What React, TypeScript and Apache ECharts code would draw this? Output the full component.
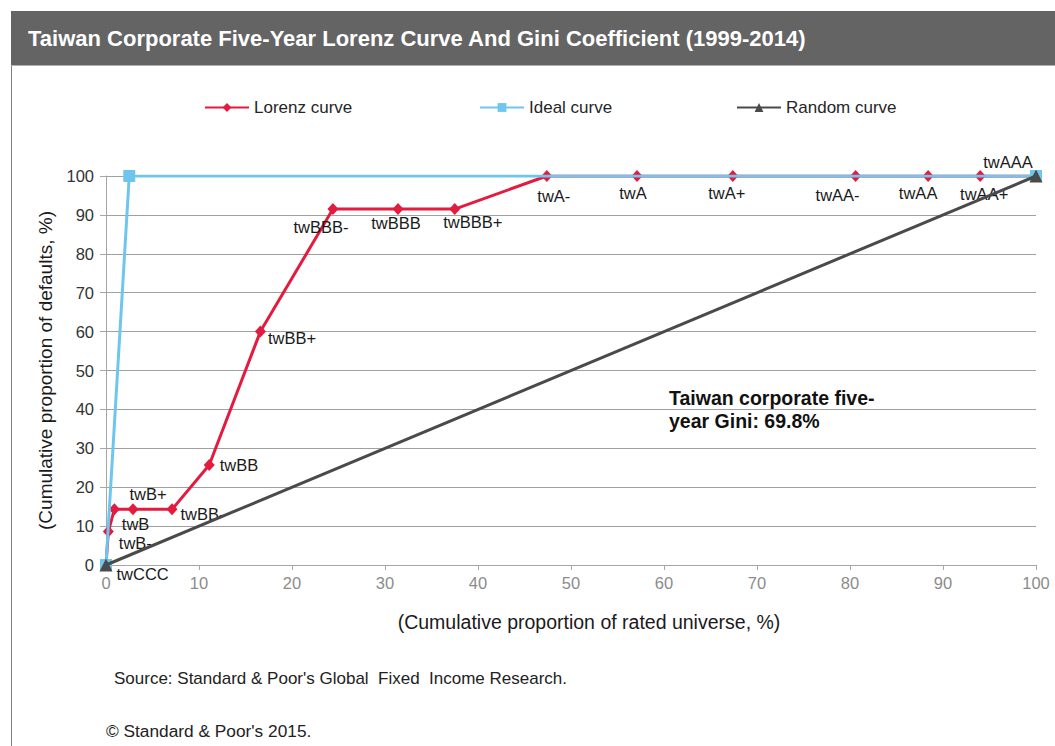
import React, { useEffect, useRef } from "react";
import * as echarts from "echarts";

const ratings = ["twCCC", "twB-", "twB", "twB+", "twBB-", "twBB", "twBB+", "twBBB-", "twBBB", "twBBB+", "twA-", "twA", "twA+", "twAA-", "twAA", "twAA+", "twAAA"];
const lorenzX = [0, 0.25, 0.9, 2.9, 7.1, 11.1, 16.6, 24.4, 31.4, 37.5, 47.4, 57.1, 67.4, 80.6, 88.4, 94.0, 100];
const lorenzY = [0, 8.6, 14.3, 14.3, 14.3, 25.7, 60.0, 91.5, 91.5, 91.5, 100, 100, 100, 100, 100, 100, 100];
const idealX = [0, 2.5, 100];
const idealY = [0, 100, 100];
const randomX = [0, 100];
const randomY = [0, 100];
const xTicks = [0, 10, 20, 30, 40, 50, 60, 70, 80, 90, 100];
const yTicks = [0, 10, 20, 30, 40, 50, 60, 70, 80, 90, 100];

// label placement (styling only)
const labelPlacement: [string, number[]][] = [
  ["right", [0, 9]],
  ["right", [0, 11]],
  ["right", [-3, 15]],
  ["top", [15, 4]],
  ["right", [-2, 5]],
  ["right", [0, 0]],
  ["right", [-3, 6]],
  ["bottom", [-12, -2]],
  ["bottom", [-2, -6]],
  ["bottom", [18, -7]],
  ["bottom", [7, 0]],
  ["bottom", [-4, -3]],
  ["bottom", [-6, -3]],
  ["bottom", [-18, -1]],
  ["bottom", [-10, -3]],
  ["bottom", [4, -2]],
  ["top", [-28, 5]],
];

const FONT = "'Liberation Sans', Arial, sans-serif";

export default function App() {
  const ref = useRef<HTMLDivElement>(null);
  useEffect(() => {
    if (!ref.current) return;
    const chart = echarts.init(ref.current, null, { renderer: "svg" });
    const lorenzData = lorenzX.map((x, i) => ({
      value: [x, lorenzY[i]],
      label: { position: labelPlacement[i][0], offset: labelPlacement[i][1] },
    }));
    const legendBase = {
      top: 94,
      itemWidth: 44,
      itemHeight: 11,
      textStyle: { fontFamily: FONT, fontSize: 17, color: "#262626" },
    };
    chart.setOption({
      animation: false,
      textStyle: { fontFamily: FONT },
      grid: { left: 106, right: 19, top: 176, bottom: 181 },
      legend: [
        { ...legendBase, left: 199, data: ["Lorenz curve"] },
        { ...legendBase, left: 474, data: ["Ideal curve"] },
        { ...legendBase, left: 731, data: ["Random curve"] },
      ],
      xAxis: {
        type: "value",
        min: xTicks[0],
        max: xTicks[xTicks.length - 1],
        interval: 10,
        name: "(Cumulative proportion of rated universe, %)",
        nameLocation: "middle",
        nameGap: 47,
        nameTextStyle: { fontFamily: FONT, fontSize: 19.5, color: "#1a1a1a", padding: [0, 0, 0, 36] },
        axisLine: { lineStyle: { color: "#a6a6a6", width: 1 } },
        axisTick: { show: true, length: 5, lineStyle: { color: "#a6a6a6" } },
        axisLabel: { fontFamily: FONT, fontSize: 16.5, color: "#8c8c8c", margin: 9 },
        splitLine: { show: false },
      },
      yAxis: {
        type: "value",
        min: yTicks[0],
        max: yTicks[yTicks.length - 1],
        interval: 10,
        name: "(Cumulative proportion of defaults, %)",
        nameLocation: "middle",
        nameGap: 51,
        nameTextStyle: { fontFamily: FONT, fontSize: 19, color: "#1a1a1a" },
        axisLine: { show: true, lineStyle: { color: "#a6a6a6", width: 1 } },
        axisTick: { show: true, length: 6, lineStyle: { color: "#a6a6a6" } },
        axisLabel: { fontFamily: FONT, fontSize: 16.5, color: "#333", margin: 12 },
        splitLine: { show: true, lineStyle: { color: "#a0a0a0", width: 1 } },
      },
      graphic: [
        { type: "rect", shape: { x: 11, y: 11, width: 1044, height: 54 }, style: { fill: "#646464" }, silent: true },
        { type: "line", shape: { x1: 11, y1: 65.5, x2: 1055, y2: 65.5 }, style: { stroke: "#b0b0b0", lineWidth: 1 }, silent: true },
        { type: "line", shape: { x1: 11.5, y1: 66, x2: 11.5, y2: 746 }, style: { stroke: "#7f7f7f", lineWidth: 1 }, silent: true },
        {
          type: "text",
          left: 28,
          top: 27,
          style: {
            text: "Taiwan Corporate Five-Year Lorenz Curve And Gini Coefficient (1999-2014)",
            fill: "#ffffff",
            font: `bold 22px ${FONT}`,
          },
          silent: true,
        },
        {
          type: "text",
          left: 669,
          top: 386,
          style: {
            text: "Taiwan corporate five-\nyear Gini: 69.8%",
            fill: "#111",
            font: `bold 19.5px ${FONT}`,
            lineHeight: 23,
          },
          silent: true,
        },
        {
          type: "text",
          left: 114,
          top: 670,
          style: { text: "Source: Standard & Poor's Global  Fixed  Income Research.", fill: "#222", font: `17px ${FONT}` },
          silent: true,
        },
        {
          type: "text",
          left: 106,
          top: 722,
          style: { text: "© Standard & Poor's 2015.", fill: "#222", font: `17.3px ${FONT}` },
          silent: true,
        },
      ],
      series: [
        {
          name: "Lorenz curve",
          type: "line",
          data: lorenzData,
          symbol: "diamond",
          symbolSize: [11, 12],
          lineStyle: { color: "#e31b3f", width: 3 },
          itemStyle: { color: "#e31b3f" },
          label: {
            show: true,
            formatter: (p: any) => ratings[p.dataIndex],
            fontFamily: FONT,
            fontSize: 16.5,
            color: "#1a1a1a",
          },
          z: 2,
        },
        {
          name: "Ideal curve",
          type: "line",
          data: idealX.map((x, i) => [x, idealY[i]]),
          symbol: "rect",
          symbolSize: 12,
          lineStyle: { color: "#6ec6ec", width: 3 },
          itemStyle: { color: "#6ec6ec" },
          z: 3,
        },
        {
          name: "Random curve",
          type: "line",
          data: randomX.map((x, i) => [x, randomY[i]]),
          symbol: "triangle",
          symbolSize: 13,
          lineStyle: { color: "#4a4a4a", width: 3 },
          itemStyle: { color: "#4a4a4a" },
          z: 4,
        },
      ],
    });
    return () => chart.dispose();
  }, []);
  return <div ref={ref} style={{ position: "fixed", left: 0, top: 0, width: 1055, height: 746, background: "#fff" }} />;
}
